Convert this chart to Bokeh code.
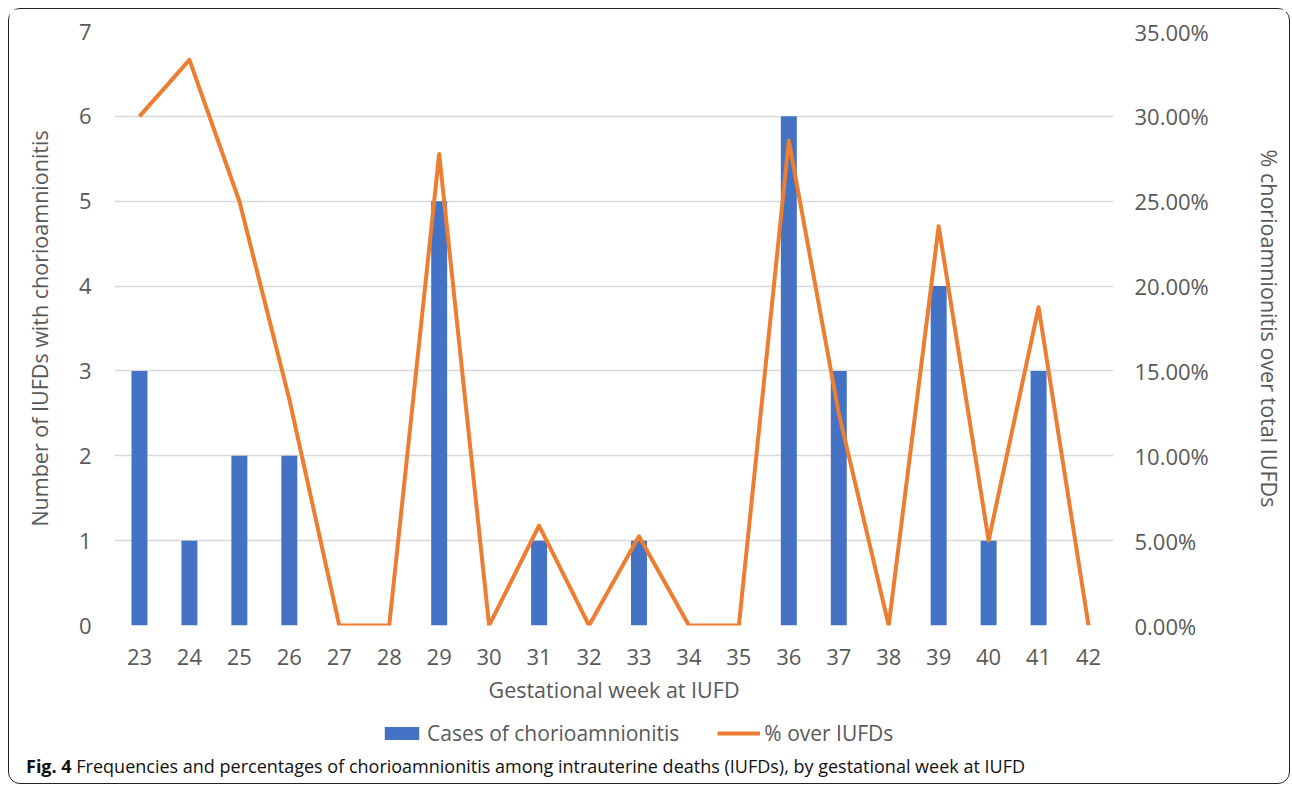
from bokeh.plotting import figure
from bokeh.layouts import column
from bokeh.models import (Range1d, LinearAxis, SingleIntervalTicker, FixedTicker, NumeralTickFormatter,
                          Legend, LegendItem, Div)
from bokeh.embed import file_html
from bokeh.resources import INLINE

weeks = [str(w) for w in range(23, 43)]
cases = [3, 1, 2, 2, 0, 0, 5, 0, 1, 0, 1, 0, 0, 6, 3, 0, 4, 1, 3, 0]
pct = [0.30, 0.3333, 0.25, 0.1333, 0, 0, 0.2778, 0, 0.0588, 0, 0.0526, 0, 0, 0.2857,
       0.125, 0, 0.2353, 0.05, 0.1875, 0]
pct_ticks = [0, 0.05, 0.10, 0.15, 0.20, 0.25, 0.30, 0.35]

FONT = "Open Sans"
TXT = "#595959"
BLUE = "#4472C4"
ORANGE = "#ED7D31"
TICK_FS = "22px"
TITLE_FS = "21.5px"

p = figure(x_range=weeks, y_range=Range1d(0, 7), width=1270, height=706,
           frame_width=999, frame_height=594,
           min_border_left=105, min_border_right=166, min_border_top=22, min_border_bottom=90,
           output_backend="svg", toolbar_location=None)
p.extra_y_ranges = {"pct": Range1d(0, 0.35)}
p.outline_line_color = None

bars = p.vbar(x=weeks, top=cases, width=0.32, color=BLUE, line_color=None)
ln = p.line(x=weeks, y=pct, y_range_name="pct", line_color=ORANGE, line_width=4,
            line_join="round")

p.xgrid.grid_line_color = None
p.ygrid.grid_line_color = "#D9D9D9"
p.ygrid.grid_line_width = 1.3
p.yaxis.ticker = SingleIntervalTicker(interval=1)
p.ygrid.ticker = SingleIntervalTicker(interval=1)

ra = LinearAxis(y_range_name="pct", ticker=FixedTicker(ticks=pct_ticks),
                formatter=NumeralTickFormatter(format="0.00%"),
                axis_label="% chorioamnionitis over total IUFDs")
p.add_layout(ra, "right")

for ax in p.yaxis + p.xaxis:
    ax.axis_line_color = None
    ax.major_tick_line_color = None
    ax.minor_tick_line_color = None
    ax.major_label_text_font = FONT
    ax.major_label_text_font_size = TICK_FS
    ax.major_label_text_color = TXT
    ax.axis_label_text_font = FONT
    ax.axis_label_text_font_size = TITLE_FS
    ax.axis_label_text_color = TXT
    ax.axis_label_text_font_style = "normal"

p.xaxis.axis_label = "Gestational week at IUFD"
p.xaxis.major_label_standoff = 17
p.xaxis.axis_label_standoff = 7
p.yaxis[0].axis_label = "Number of IUFDs with chorioamnionitis"
p.yaxis[0].major_label_standoff = 17
p.yaxis[0].axis_label_standoff = 22
ra.major_label_standoff = 15
ra.axis_label_standoff = 43

# legend strip: a small figure whose renderers use the same data, kept outside its visible range
lg = figure(width=1270, height=36, x_range=weeks, y_range=Range1d(1000, 1001),
            output_backend="svg", toolbar_location=None, min_border=0)
lg.axis.visible = False
lg.grid.visible = False
lg.outline_line_color = None
lb = lg.vbar(x=weeks, top=cases, width=0.32, color=BLUE, line_color=None)
ll = lg.line(x=weeks, y=pct, line_color=ORANGE, line_width=4)
legend = Legend(items=[LegendItem(label="Cases of chorioamnionitis", renderers=[lb]),
                       LegendItem(label="% over IUFDs", renderers=[ll])],
                orientation="horizontal", location=(266, 4),
                glyph_width=43, glyph_height=16, label_text_font=FONT,
                label_text_font_size="21px", label_text_color=TXT,
                spacing=38, padding=0, margin=0, border_line_color=None,
                background_fill_alpha=0, label_standoff=4)
lg.add_layout(legend)

caption = Div(text="<b>Fig. 4</b> Frequencies and percentages of chorioamnionitis among intrauterine deaths (IUFDs), by gestational week at IUFD",
              width=1270, height=22,
              styles={"font-family": "'Open Sans'", "font-size": "18px", "color": "#111",
                      "padding-left": "12px", "line-height": "20px"})

layout = column(p, lg, caption, spacing=0,
                styles={"border": "1.5px solid #222", "border-radius": "12px",
                        "margin-top": "8px", "margin-left": "8px"})

open("out.html", "w").write(file_html(layout, INLINE))
